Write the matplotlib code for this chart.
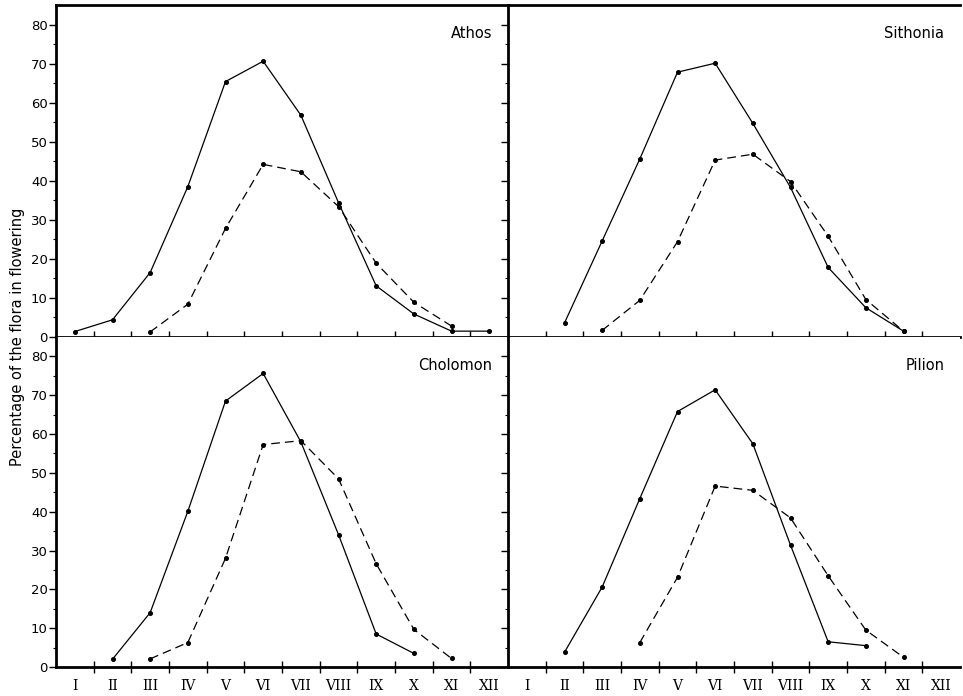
import matplotlib
matplotlib.use("Agg")
import matplotlib.pyplot as plt
import numpy as np

months = ["I", "II", "III", "IV", "V", "VI", "VII", "VIII", "IX", "X", "XI", "XII"]

# month index (1..12) -> values
athos_solid_m = [1, 2, 3, 4, 5, 6, 7, 8, 9, 10, 11, 12]
athos_solid_v = [1.4, 4.4, 16.5, 38.5, 65.4, 70.6, 56.8, 34.4, 13.1, 5.9, 1.5, 1.5]
athos_dash_m = [3, 4, 5, 6, 7, 8, 9, 10, 11]
athos_dash_v = [1.3, 8.4, 27.8, 44.2, 42.3, 33.4, 18.9, 8.9, 2.8]

sith_solid_m = [2, 3, 4, 5, 6, 7, 8, 9, 10, 11]
sith_solid_v = [3.6, 24.6, 45.6, 67.8, 70.1, 54.7, 38.3, 17.8, 7.5, 1.5]
sith_dash_m = [3, 4, 5, 6, 7, 8, 9, 10, 11]
sith_dash_v = [1.7, 9.4, 24.4, 45.3, 46.8, 39.8, 25.8, 9.6, 1.5]

chol_solid_m = [2, 3, 4, 5, 6, 7, 8, 9, 10]
chol_solid_v = [2.0, 14.0, 40.1, 68.5, 75.6, 58.0, 34.1, 8.5, 3.5]
chol_dash_m = [3, 4, 5, 6, 7, 8, 9, 10, 11]
chol_dash_v = [2.1, 6.3, 28.0, 57.3, 58.3, 48.5, 26.6, 9.7, 2.2]

pil_solid_m = [2, 3, 4, 5, 6, 7, 8, 9, 10]
pil_solid_v = [3.8, 20.6, 43.4, 65.8, 71.4, 57.5, 31.4, 6.5, 5.5]
pil_dash_m = [4, 5, 6, 7, 8, 9, 10, 11]
pil_dash_v = [6.3, 23.1, 46.6, 45.5, 38.4, 23.5, 9.5, 2.5]

panels = [
    ("Athos", athos_solid_m, athos_solid_v, athos_dash_m, athos_dash_v),
    ("Sithonia", sith_solid_m, sith_solid_v, sith_dash_m, sith_dash_v),
    ("Cholomon", chol_solid_m, chol_solid_v, chol_dash_m, chol_dash_v),
    ("Pilion", pil_solid_m, pil_solid_v, pil_dash_m, pil_dash_v),
]

W, H = 963, 696
fig = plt.figure(figsize=(W / 100, H / 100), dpi=100)

x0l, x0r, wpx = 56, 508, 452
ytop, ymid, ybot = 5, 337, 667
rects = [
    (x0l, ymid, ymid - ytop),
    (x0r, ymid, ymid - ytop),
    (x0l, ybot, ybot - ymid),
    (x0r, ybot, ybot - ymid),
]

for i, ((name, sm, sv, dm, dv), (xl, yb, hp)) in enumerate(zip(panels, rects)):
    ax = fig.add_axes([xl / W, 1 - yb / H, wpx / W, hp / H])
    ax.set_xlim(0, 12)
    ax.set_ylim(0, 85)
    xs = np.array(sm) - 0.5
    xd = np.array(dm) - 0.5
    ax.plot(xs, sv, "-", color="black", lw=0.9, marker="o", ms=2.6, clip_on=False)
    ax.plot(xd, dv, "--", color="black", lw=0.9, marker="o", ms=2.6,
            dashes=(7, 4), clip_on=False)
    ax.text(0.965, 0.915, name, transform=ax.transAxes, ha="right", va="center",
            fontsize=10.5, family="DejaVu Sans")

    ax.spines["right"].set_visible(False)
    for s in ("left", "bottom", "top"):
        ax.spines[s].set_linewidth(2.0)
    if i >= 2:
        ax.spines["top"].set_visible(False)

    ax.set_yticks(np.arange(0, 81, 10))
    ax.set_yticks(np.arange(5, 81, 10), minor=True)
    ax.tick_params(axis="y", which="major", direction="out", length=5, width=1,
                   labelsize=9.5, pad=1)
    ax.tick_params(axis="y", which="minor", direction="out", length=2.5, width=0.8)
    if i in (1, 3):
        ax.tick_params(axis="y", which="both", labelleft=False)

    ax.set_xticks(np.arange(1, 12))
    ax.set_xticks(np.arange(12) + 0.5, minor=True)
    ax.tick_params(axis="x", which="major", direction="inout", length=8, width=1,
                   labelbottom=False)
    if i >= 2:
        ax.set_xticklabels([], minor=False)
        ax.set_xticklabels(months, minor=True, family="DejaVu Serif", fontsize=10)
        ax.tick_params(axis="x", which="minor", length=0, pad=9, labelbottom=True)
    else:
        ax.tick_params(axis="x", which="minor", length=0, labelbottom=False)
    for t in ax.get_yticklabels():
        t.set_family("DejaVu Sans")

fig.text(18 / W, 1 - 337 / H, "Percentage of the flora in flowering", rotation=90,
         ha="center", va="center", fontsize=10.5, family="DejaVu Sans")

fig.savefig("out.png", dpi=100)
